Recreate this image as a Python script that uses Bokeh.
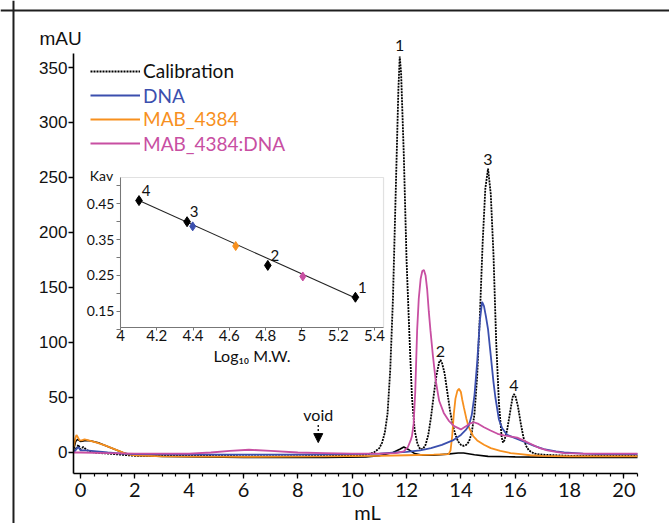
from bokeh.plotting import figure
from bokeh.models import (Range1d, FixedTicker, Legend, LegendItem, Label, Arrow,
                          NormalHead, BoxAnnotation, Span)
from bokeh.layouts import column
from bokeh.core.properties import value
from bokeh.embed import file_html
from bokeh.resources import INLINE

# ---------------- data ----------------
cal_ml = [-0.25, -0.15, -0.08, 0.0, 0.1, 0.25, 0.5, 1.0, 1.5, 2.0,
          4.0, 6.0, 8.0, 10.0, 10.5, 10.8, 11.0, 11.1, 11.2, 11.3,
          11.4, 11.5, 11.6, 11.7, 11.75, 11.8, 11.9, 12.0, 12.1, 12.2,
          12.3, 12.4, 12.5, 12.6, 12.7, 12.8, 12.9, 13.0, 13.1, 13.2,
          13.25, 13.3, 13.4, 13.5, 13.6, 13.7, 13.8, 13.9, 14.0, 14.1,
          14.2, 14.3, 14.4, 14.5, 14.6, 14.7, 14.8, 14.9, 15.0, 15.1,
          15.2, 15.3, 15.4, 15.5, 15.55, 15.6, 15.7, 15.8, 15.9, 15.95,
          16.0, 16.1, 16.2, 16.3, 16.4, 16.5, 16.7, 17.0, 18.0, 20.5]
cal_mau = [1, 4, 7, 3, 5, 2, 0, -1, -2, -3,
           -3, -3.5, -3.5, -3, -2, 0, 4, 9, 18, 35,
           75, 140, 235, 330, 360, 345, 270, 175, 110, 50,
           20, 8, 3, 3, 7, 16, 32, 52, 70, 82,
           84, 82, 72, 55, 38, 25, 16, 10, 7, 6,
           7, 10, 18, 35, 70, 125, 190, 240, 258, 235,
           180, 100, 45, 14, 9, 11, 20, 35, 50, 53,
           52, 42, 27, 14, 6, 2, -1, -2, -3, -3]

base_ml = [-0.25, -0.18, -0.1, 0.0, 0.2, 0.4, 0.7, 1.0, 1.3, 1.6, 2.0, 3.0, 6.0,
           9.0, 10.5, 11.0, 11.5, 11.75, 11.9, 12.05, 12.3, 12.6, 13.0, 13.5,
           13.9, 14.1, 14.5, 15.0, 16.0, 18.0, 20.5]
base_mau = [3, 10, 12, 10, 11, 10.5, 8.5, 5.5, 2.5, -0.5, -2.5, -3.5, -4.5,
            -4.5, -4, -3, 0, 3, 5, 3, -1, -2.5, -2.5, -1.5,
            -0.5, -0.5, -2, -3.5, -4, -4.5, -4.5]

dna_ml = [-0.25, -0.15, -0.08, 0.0, 0.2, 0.6, 1.0, 1.5, 2.0, 4.0,
          6.0, 8.0, 10.0, 11.0, 11.6, 12.0, 12.5, 12.9, 13.3, 13.7,
          14.0, 14.2, 14.3, 14.4, 14.5, 14.6, 14.7, 14.78, 14.85, 14.92,
          15.0, 15.1, 15.2, 15.27, 15.4, 15.52, 15.7, 16.0, 16.3, 16.7,
          17.05, 17.5, 17.8, 18.5, 19.0, 20.5]
dna_mau = [0, 3, 5, 2, 2, 1, 0, -1, -1.5, -2,
           -2, -2, -1.5, -1, 0, 0.5, 2, 4, 7, 11,
           16, 21, 25, 34, 52, 82, 120, 137, 133, 124,
           112, 88, 64, 50, 30, 22, 16, 13, 10, 6,
           3, 1, 0, -1, -1.5, -1.5]

mab_ml = [-0.25, -0.2, -0.15, -0.1, -0.03, 0.05, 0.15, 0.3, 0.6, 0.9,
          1.2, 1.5, 1.7, 2.0, 3.0, 6.0, 9.0, 11.0, 12.0, 13.0,
          13.55, 13.62, 13.68, 13.74, 13.8, 13.87, 13.93, 14.0, 14.05, 14.11,
          14.2, 14.29, 14.45, 14.6, 14.85, 15.1, 15.45, 15.83, 16.2, 16.56,
          17.0, 18.0, 20.5]
mab_mau = [5, 12, 16, 14, 11, 11, 12, 11, 9, 6.5,
           3.5, 0.5, -1.5, -2.5, -3.5, -4, -3.5, -3, -2.5, -2,
           -1.5, 2, 15, 35, 49, 56, 58, 55, 48, 41,
           31, 23, 15, 11, 7, 4, 1.5, -0.5, -1.5, -2.5,
           -3, -3.5, -3.5]

cplx_ml = [-0.25, 0.0, 1.0, 2.0, 4.0, 4.8, 5.5, 6.2, 7.0, 8.0,
           9.0, 10.0, 11.0, 11.6, 11.9, 12.05, 12.15, 12.2, 12.26, 12.32,
           12.39, 12.45, 12.52, 12.58, 12.64, 12.7, 12.76, 12.82, 12.88, 12.97,
           13.07, 13.2, 13.37, 13.55, 13.75, 14.0, 14.2, 14.35, 14.48, 14.65,
           14.85, 15.09, 15.35, 15.58, 15.85, 16.07, 16.3, 16.56, 16.85, 17.18,
           17.5, 17.8, 18.5, 20.5]
cplx_mau = [0, 0, -0.5, -1, -1, 0, 1.5, 2.5, 1.5, 0,
            -0.5, -1, -1, -0.5, 1, 5, 11, 15, 26, 55,
            111, 140, 158, 165, 166, 161, 148, 128, 111, 88,
            66, 47, 36, 29, 24, 21, 24, 26.5, 27.5, 26,
            23, 20, 17, 15.5, 14.5, 13.5, 11, 8, 4.5, 2,
            0.5, -0.5, -1, -1]

peak_labels = ["1", "2", "3", "4"]
peak_ml = [11.75, 13.25, 14.99, 15.95]
peak_mau = [362, 84, 258, 53]

void_ml = 8.75

x_ticks = [0, 2, 4, 6, 8, 10, 12, 14, 16, 18, 20]
y_ticks = [0, 50, 100, 150, 200, 250, 300, 350]
x_axis_span = (-0.258, 20.5)
y_axis_span = (-19.1, 362.7)

# inset: calibration curve
std_labels = ["1", "2", "3", "4"]
std_logmw = [5.295, 4.812, 4.367, 4.102]
std_kav = [0.189, 0.278, 0.400, 0.459]
fit_logmw = [4.102, 5.295]
fit_kav = [0.459, 0.187]
sample_names = ["DNA", "MAB_4384", "MAB_4384:DNA"]
sample_logmw = [4.398, 4.635, 5.005]
sample_kav = [0.387, 0.332, 0.247]
inset_x_ticks = [4.0, 4.2, 4.4, 4.6, 4.8, 5.0, 5.2, 5.4]
inset_y_ticks = [0.15, 0.25, 0.35, 0.45]
inset_y_minor = [0.10, 0.20, 0.30, 0.40, 0.50]
inset_x_span = (4.0, 5.45)
inset_y_span = (0.1045, 0.5235)

BLUE = "#3b4fae"
ORANGE = "#f7901e"
PINK = "#c84fa2"
sample_colors = [BLUE, ORANGE, PINK]

CAL = "Lato"
ARIAL = "Liberation Sans"
INK = "#111111"

# ---------------- main chromatogram ----------------
# the frame covers the whole canvas; axes sit at fixed data locations
p = figure(width=669, height=523, min_border=0,
           x_range=Range1d(-2.944, 21.678), y_range=Range1d(-64.55, 410.91),
           output_backend="svg", toolbar_location=None)
p.outline_line_color = None
p.xgrid.visible = False
p.ygrid.visible = False
p.background_fill_color = "white"
p.border_fill_color = "white"

# panel border (top and left edges of the original figure panel)
p.add_layout(Span(location=-2.466, dimension="height", line_color="#1e1e1e", line_width=2))
p.add_layout(Span(location=401.8, dimension="width", line_color="#1e1e1e", line_width=2))

r_cal = p.line(cal_ml, cal_mau, line_color="black", line_width=1.8, line_dash="2 1")
p.line(base_ml, base_mau, line_color="black", line_width=1.6)
r_mab = p.line(mab_ml, mab_mau, line_color=ORANGE, line_width=1.8)
r_dna = p.line(dna_ml, dna_mau, line_color=BLUE, line_width=1.8)
r_cplx = p.line(cplx_ml, cplx_mau, line_color=PINK, line_width=1.8)

p.text(x=peak_ml, y=peak_mau, text=peak_labels, text_font=value(CAL),
       text_font_size="16px", text_align="center", text_baseline="middle",
       y_offset=-9, text_color=INK)

xa = p.xaxis[0]
xa.fixed_location = y_axis_span[0]
xa.bounds = x_axis_span
xa.ticker = FixedTicker(ticks=x_ticks, minor_ticks=[i * 0.5 for i in range(0, 42)])
xa.axis_line_width = 1.6
xa.axis_line_color = "black"
xa.major_tick_out = 5
xa.major_tick_in = 0
xa.minor_tick_out = 3
xa.minor_tick_in = 0
xa.major_tick_line_width = 1.3
xa.minor_tick_line_width = 1.2
xa.major_label_text_font = CAL
xa.major_label_text_font_size = "20px"
xa.major_label_text_color = INK
xa.major_label_standoff = 4

ya = p.yaxis[0]
ya.fixed_location = x_axis_span[0]
ya.bounds = y_axis_span
ya.ticker = FixedTicker(ticks=y_ticks)
ya.axis_line_width = 1.6
ya.axis_line_color = "black"
ya.major_tick_out = 5
ya.major_tick_in = 0
ya.major_tick_line_width = 1.3
ya.minor_tick_line_color = None
ya.major_label_text_font = ARIAL
ya.major_label_text_font_size = "17px"
ya.major_label_text_color = INK
ya.major_label_standoff = 1

p.add_layout(Label(x=60, y=485, x_units="screen", y_units="screen", text="mAU",
                   text_font=ARIAL, text_font_size="19px", text_align="center",
                   text_baseline="middle", text_color=INK))
p.add_layout(Label(x=367, y=12, x_units="screen", y_units="screen", text="mL",
                   text_font=CAL, text_font_size="20px", text_align="center",
                   text_baseline="middle", text_color=INK))

# void marker
p.add_layout(Label(x=void_ml, y=26, text="void", text_font=CAL, text_font_size="16px",
                   text_align="center", text_baseline="bottom", text_color=INK))
p.add_layout(Arrow(end=NormalHead(size=9, fill_color="black", line_color="black"),
                   x_start=void_ml, y_start=25, x_end=void_ml, y_end=9,
                   line_color="black", line_width=1.3, line_dash="2 2"))

# legend (one per entry so each label keeps its series colour)
leg_specs = [("Calibration", r_cal, INK, 441),
             ("DNA", r_dna, BLUE, 416.5),
             ("MAB_4384", r_mab, ORANGE, 393),
             ("MAB_4384:DNA", r_cplx, PINK, 368.5)]
for lab, rend, col, ly in leg_specs:
    leg = Legend(items=[LegendItem(label=lab, renderers=[rend])], location=(90, ly),
                 label_text_color=col, label_text_font=CAL, label_text_font_size="19px",
                 glyph_width=50, glyph_height=20, label_height=20, label_standoff=3,
                 padding=0, margin=0, spacing=0, border_line_color=None,
                 background_fill_alpha=0)
    p.add_layout(leg)

# ---------------- inset: Kav vs log10 MW ----------------
ins = figure(width=310, height=207, min_border=0,
             x_range=Range1d(3.7795, 5.4884), y_range=Range1d(-0.0212, 0.5570),
             output_backend="svg", toolbar_location=None)
ins.xgrid.visible = False
ins.ygrid.visible = False
ins.outline_line_color = None
ins.background_fill_alpha = 0
ins.border_fill_alpha = 0

ins.add_layout(BoxAnnotation(left=inset_x_span[0], right=inset_x_span[1],
                             bottom=inset_y_span[0], top=inset_y_span[1],
                             fill_color="white", fill_alpha=1,
                             line_color="#9a9a9a", line_width=1.2, level="underlay"))

ins.line(fit_logmw, fit_kav, line_color="#222222", line_width=1.1)
ins.scatter(std_logmw, std_kav, marker="diamond", size=10, fill_color="black", line_color="black")
ins.scatter(sample_logmw, sample_kav, marker="diamond", size=9,
            fill_color=sample_colors, line_color=sample_colors)
ins.text(x=std_logmw, y=std_kav, text=std_labels, text_font=value(CAL),
         text_font_size="15px", text_align="center", text_baseline="middle",
         x_offset=7, y_offset=-10, text_color=INK)

ixa = ins.xaxis[0]
ixa.fixed_location = inset_y_span[0]
ixa.bounds = inset_x_span
ixa.ticker = FixedTicker(ticks=inset_x_ticks)
ixa.axis_line_color = "#777777"
ixa.major_tick_out = 3
ixa.major_tick_in = 0
ixa.major_tick_line_color = "#777777"
ixa.minor_tick_line_color = None
ixa.major_label_text_font = CAL
ixa.major_label_text_font_size = "15px"
ixa.major_label_text_color = INK
ixa.major_label_standoff = 0
ixa.axis_label = "Log₁₀ M.W."
ixa.axis_label_text_font = CAL
ixa.axis_label_text_font_size = "16px"
ixa.axis_label_text_font_style = "normal"
ixa.axis_label_text_color = INK
ixa.axis_label_standoff = 1

iya = ins.yaxis[0]
iya.fixed_location = inset_x_span[0]
iya.bounds = inset_y_span
iya.ticker = FixedTicker(ticks=inset_y_ticks, minor_ticks=inset_y_minor)
iya.axis_line_color = "#777777"
iya.major_tick_out = 4
iya.major_tick_in = 0
iya.minor_tick_out = 4
iya.minor_tick_in = 0
iya.major_tick_line_color = "#777777"
iya.minor_tick_line_color = "#777777"
iya.major_label_text_font = CAL
iya.major_label_text_font_size = "14px"
iya.major_label_text_color = INK
iya.major_label_standoff = 2

ins.add_layout(Label(x=21, y=197, x_units="screen", y_units="screen", text="Kav",
                     text_font=CAL, text_font_size="14px", text_align="center",
                     text_baseline="middle", text_color=INK))

ins.styles = {"position": "absolute", "left": "80px", "top": "165px"}

root = column(p, ins, styles={"position": "relative"})

open("out.html", "w").write(file_html(root, INLINE))
